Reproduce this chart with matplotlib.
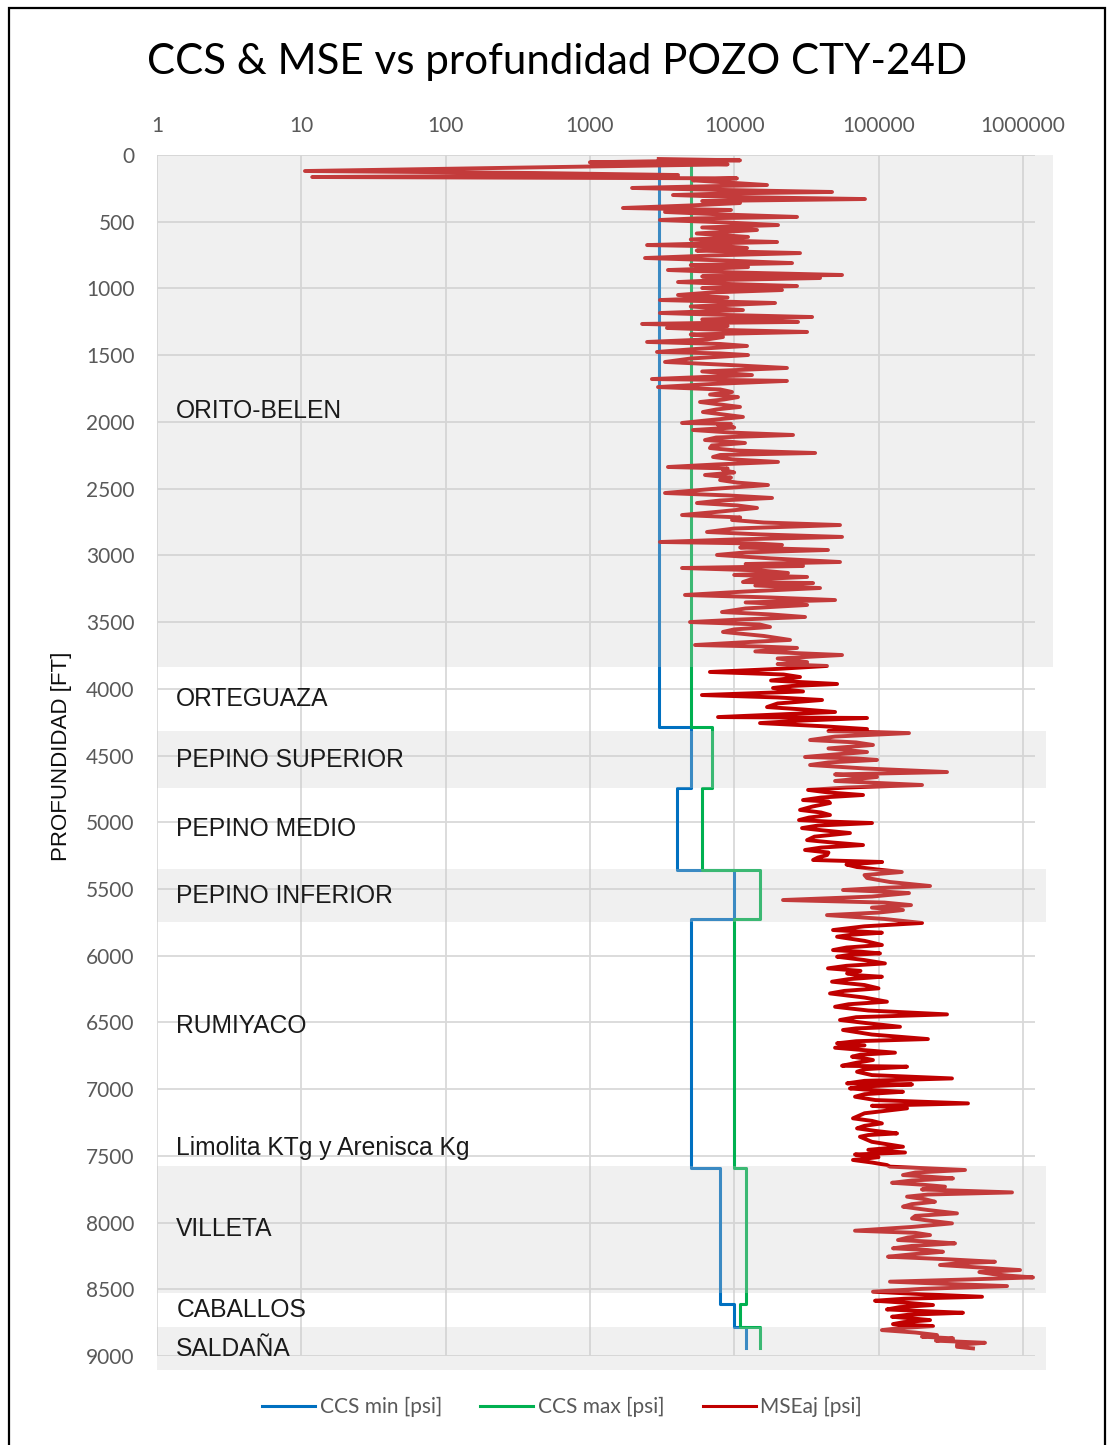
"""CCS & MSE vs depth, well CTY-24D."""
import matplotlib
matplotlib.use("Agg")
import matplotlib.pyplot as plt
from matplotlib import transforms
from matplotlib.patches import Rectangle
from matplotlib.ticker import NullLocator

# formation tops [ft], last value is the base of the deepest unit
formations = ["ORITO-BELEN", "ORTEGUAZA", "PEPINO SUPERIOR", "PEPINO MEDIO",
              "PEPINO INFERIOR", "RUMIYACO", "Limolita KTg y Arenisca Kg",
              "VILLETA", "CABALLOS", "SALDAÑA"]
formation_tops = [0, 3840, 4316, 4744, 5351, 5748, 7300, 7576, 8528, 8783, 9105]
formation_shaded = [True, False, True, False, True, False, False, True, False, True]

# CCS step profiles: depth breakpoints and value per interval [psi]
ccs_depth = [50, 4290, 4744, 5358, 5726, 7591, 8611, 8783, 8940]
ccs_min = [3000, 5000, 4000, 10000, 5000, 8000, 10000, 12000]
ccs_max = [5000, 7000, 6000, 15000, 10000, 12000, 11000, 15000]

# MSE adjusted trace (depth ft, psi)
mse_orito = [
    (30, 3000), (35, 6000), (40, 10970), (48, 2500), (55, 1000), (62, 5000),
    (70, 9000), (78, 3000), (85, 1200), (120, 10.6), (135, 420), (150, 4080),
    (165, 11.9), (175, 10450), (182, 6000), (190, 5185), (208, 9500),
    (225, 16880), (236, 5500), (247, 1960), (262, 8500), (277, 47640),
    (288, 9000), (300, 3765), (315, 10000), (330, 80600), (345, 6000),
    (360, 10970), (378, 5000), (397, 1695), (412, 9500), (427, 3315),
    (445, 8000), (464, 27250), (475, 5500), (487, 3060), (506, 9000),
    (525, 20120), (543, 6000), (562, 14390), (588, 5500), (614, 12470),
    (633, 5000), (652, 19820), (663, 6500), (675, 2490), (686, 9000),
    (697, 12270), (716, 5500), (735, 28580), (753, 7000), (772, 2410),
    (791, 9000), (810, 25170), (825, 5000), (840, 12470), (851, 7000),
    (862, 3475), (880, 10000), (899, 55880), (910, 6000), (922, 39330),
    (937, 8000), (952, 4080), (967, 9500), (982, 27250), (997, 6000),
    (1012, 21440), (1030, 7000), (1049, 4080), (1068, 9000), (1087, 3060),
    (1098, 8000), (1109, 19190), (1135, 5000), (1162, 11500), (1173, 6000),
    (1184, 3060), (1199, 9000), (1214, 34660), (1232, 6000), (1251, 27690),
    (1258, 7000), (1266, 2300), (1281, 9000), (1296, 3420), (1311, 8500),
    (1326, 31990), (1345, 5000), (1364, 8360), (1382, 6500), (1401, 2490),
    (1416, 8000), (1431, 12270), (1453, 5500), (1476, 2917), (1487, 8000),
    (1499, 12470), (1525, 5000), (1551, 3315), (1573, 9000), (1596, 23200),
    (1622, 6000), (1649, 13280), (1664, 6000), (1679, 2690), (1686, 9000),
    (1693, 23200), (1716, 7000), (1739, 2965), (1757, 8000), (1776, 9660),
    (1795, 6800), (1814, 10620), (1832, 8500), (1851, 5795), (1870, 8000),
    (1888, 10970), (1907, 7500), (1926, 6070), (1945, 8500), (1963, 11500),
    (1985, 7000), (2008, 4350), (2015, 9500), (2023, 7725), (2042, 10000),
    (2061, 5185), (2080, 9500), (2098, 25570), (2117, 7500), (2136, 6275),
    (2147, 9000), (2158, 11880), (2177, 7000), (2196, 6790), (2215, 10500),
    (2233, 36370), (2248, 8000), (2263, 7130), (2282, 10000), (2300, 20120),
    (2319, 7500), (2338, 3475), (2349, 9000), (2360, 8360), (2379, 10000),
    (2398, 6275), (2417, 9500), (2436, 7980), (2455, 10500), (2473, 17150),
    (2503, 7000), (2533, 3315), (2551, 9000), (2570, 18290), (2589, 8000),
    (2608, 5520), (2626, 10500), (2645, 14390), (2672, 8000), (2698, 4350),
    (2716, 11000), (2735, 9660), (2754, 16000), (2773, 54100), (2799, 10000),
    (2825, 6480), (2843, 15000), (2862, 55880), (2881, 10000), (2900, 3060),
    (2911, 14000), (2922, 21440), (2941, 11000), (2960, 44660), (2978, 12000),
    (2997, 7600), (3023, 18000), (3050, 54100), (3065, 12000), (3080, 29990),
    (3088, 11000), (3095, 4350), (3113, 15000), (3132, 23590), (3147, 10000),
    (3162, 31990), (3181, 13000), (3200, 11500), (3208, 35210), (3226, 14000),
    (3245, 39330), (3271, 12000), (3297, 4560), (3316, 18000), (3335, 50000),
    (3353, 12000), (3372, 31990), (3398, 12000), (3425, 8230), (3443, 18000),
    (3462, 30970), (3481, 11000), (3500, 4940), (3518, 15000), (3537, 17710),
    (3555, 10000), (3574, 8360), (3604, 16000), (3634, 24370), (3653, 11000),
    (3672, 5350), (3683, 15000), (3694, 27250), (3720, 14000), (3747, 55880),
    (3773, 20000), (3800, 31990), (3815, 20000), (3829, 43960),
]
mse_pepino = [
    (3851, 20000), (3874, 6790), (3893, 22000), (3912, 28580), (3938, 18000),
    (3964, 51640), (3979, 25000), (3994, 18580), (4020, 30000), (4047, 5975),
    (4065, 20000), (4084, 40620), (4110, 20000), (4137, 16880), (4155, 30000),
    (4174, 50000), (4193, 20000), (4212, 7725), (4219, 83270), (4238, 30000),
    (4257, 15100), (4280, 40000), (4302, 83270), (4317, 45000), (4332, 162700),
    (4358, 50000), (4384, 33560), (4402, 70000), (4421, 91580), (4447, 45000),
    (4474, 83270), (4492, 50000), (4511, 30970), (4522, 70000), (4533, 97700),
    (4552, 45000), (4571, 33560), (4597, 80000), (4624, 298400), (4642, 50000),
    (4661, 97700), (4691, 50000), (4721, 200300), (4740, 60000), (4758, 32500),
    (4777, 45000), (4796, 78140), (4815, 40000), (4834, 29990), (4845, 45000),
    (4856, 46130), (4882, 35000), (4908, 28580), (4927, 40000), (4946, 46130),
    (4965, 33000), (4984, 28130), (4995, 45000), (5006, 90160), (5025, 38000),
    (5044, 29520), (5062, 42000), (5081, 63420), (5108, 36000), (5134, 31990),
    (5152, 48000), (5171, 78140), (5190, 40000), (5208, 30970), (5227, 45000),
    (5246, 43960), (5265, 38000), (5283, 35210), (5298, 106000), (5317, 60000),
    (5336, 70990), (5355, 100000), (5373, 145000), (5396, 80000), (5418, 83270),
    (5448, 120000), (5478, 227600), (5493, 100000), (5508, 56770),
    (5520, 110000), (5531, 162700), (5557, 90000), (5583, 21790),
    (5602, 110000), (5621, 168000), (5640, 90000), (5658, 147800),
    (5677, 100000), (5696, 43960), (5725, 110000), (5755, 200300),
]
mse_rumiyaco = [
    (5780, 80000), (5808, 48410), (5828, 105600), (5843, 65000), (5858, 51640),
    (5889, 80000), (5920, 105600), (5939, 60000), (5958, 48410), (5970, 75000),
    (5983, 102400), (5995, 62000), (6008, 51640), (6033, 80000), (6058, 110800),
    (6076, 60000), (6095, 44660), (6114, 75000), (6133, 60550), (6146, 70000),
    (6158, 105600), (6176, 62000), (6195, 47640), (6220, 80000), (6245, 100000),
    (6264, 58000), (6283, 46130), (6314, 80000), (6345, 114400), (6364, 62000),
    (6383, 50000), (6411, 85000), (6440, 298400), (6461, 70000), (6482, 54100),
    (6507, 85000), (6533, 140900), (6545, 70000), (6557, 56770), (6591, 90000),
    (6625, 220000), (6641, 70000), (6657, 51640), (6672, 80000), (6690, 50000),
    (6708, 80000), (6727, 130100), (6742, 75000), (6757, 65510), (6770, 80000),
    (6782, 91580), (6803, 70000), (6825, 55880), (6832, 157700), (6851, 80000),
    (6870, 70990), (6895, 90000), (6920, 323000), (6938, 80000), (6957, 60550),
    (6965, 170700), (6980, 80000), (6995, 63420), (7007, 90000), (7020, 147800),
    (7038, 80000), (7057, 68730), (7082, 95000), (7107, 417000), (7125, 90000),
    (7144, 157700), (7181, 80000), (7219, 66550), (7238, 90000), (7257, 105600),
    (7275, 80000), (7294, 70990), (7313, 95000), (7332, 134400), (7344, 85000),
    (7357, 74380), (7395, 90000), (7432, 147800), (7455, 85000), (7475, 152700),
    (7490, 68730), (7510, 100000), (7531, 66550), (7550, 90000), (7569, 114400),
]
mse_villeta = [
    (7581, 120100), (7606, 397800), (7625, 180000), (7644, 147800),
    (7656, 220000), (7669, 328300), (7685, 170000), (7702, 124100),
    (7716, 200000), (7731, 289000), (7752, 200000), (7774, 841800),
    (7790, 220000), (7806, 157700), (7825, 210000), (7844, 246500),
    (7862, 170000), (7881, 147800), (7906, 220000), (7931, 349900),
    (7950, 180000), (7969, 170700), (7987, 230000), (8006, 323000),
    (8033, 170000), (8061, 68730), (8077, 180000), (8094, 227600),
    (8112, 160000), (8131, 136500), (8143, 230000), (8156, 339000),
    (8175, 170000), (8193, 126000), (8206, 220000), (8219, 280000),
    (8238, 170000), (8256, 116300), (8275, 300000), (8294, 641700),
    (8306, 350000), (8318, 266700), (8337, 500000), (8356, 956700),
    (8371, 500000), (8386, 621500), (8398, 800000), (8411, 1177000),
    (8427, 400000), (8443, 120100), (8460, 300000), (8476, 777700),
    (8497, 200000), (8518, 91580), (8537, 200000), (8556, 521700),
    (8571, 150000), (8586, 94600), (8602, 160000), (8618, 238700),
    (8634, 140000), (8651, 114400), (8663, 200000), (8676, 385000),
    (8691, 160000), (8706, 124100), (8718, 170000), (8731, 227600),
    (8746, 150000), (8761, 126000), (8776, 238700), (8791, 140000),
    (8806, 105600), (8824, 180000), (8843, 254200), (8855, 200000),
    (8868, 328300), (8885, 250000), (8901, 547000), (8916, 350000),
    (8931, 349900), (8943, 451700),
]

x_ticks = [1, 10, 100, 1000, 10000, 100000, 1000000]
y_ticks = list(range(0, 9001, 500))


def step_xy(depths, values):
    """turn interval values into a vertical step polyline."""
    xs, ys = [], []
    for i, v in enumerate(values):
        xs += [v, v]
        ys += [depths[i], depths[i + 1]]
    return xs, ys


W, H = 1107, 1445
fig = plt.figure(figsize=(W / 100, H / 100), dpi=100)
plt.rcParams["font.family"] = ["Lato", "DejaVu Sans"]

ax = fig.add_axes([157 / W, 1 - 1356 / H, (1035 - 157) / W, (1356 - 155) / H])
ax.set_xscale("log")
ax.set_xlim(1, 10 ** (878 / 144.3))
ax.set_ylim(9000, 0)

xs, ys = step_xy(ccs_depth, ccs_min)
ax.plot(xs, ys, color="#0070C0", lw=2.2, label="CCS min [psi]", zorder=2)
xs, ys = step_xy(ccs_depth, ccs_max)
ax.plot(xs, ys, color="#00B050", lw=2.2, label="CCS max [psi]", zorder=2)
mse = mse_orito + mse_pepino + mse_rumiyaco + mse_villeta
ax.plot([p[1] for p in mse], [p[0] for p in mse], color="#C00000", lw=2.8,
        label="MSEaj [psi]", zorder=2.5)

# formation bands, drawn over the curves so they wash them out a bit
band_tr = transforms.blended_transform_factory(fig.transFigure, ax.transData)
label_tr = transforms.blended_transform_factory(ax.transAxes, ax.transData)
for i, name in enumerate(formations):
    top, base = formation_tops[i], formation_tops[i + 1]
    if formation_shaded[i]:
        right = 1053 if i == 0 else 1046
        ax.add_patch(Rectangle((157 / W, top), (right - 157) / W, base - top,
                               transform=band_tr, facecolor="#CCCCCC",
                               alpha=0.29, lw=0, zorder=3, clip_on=False))
    ax.text(0.022, (top + base) / 2, name, transform=label_tr, ha="left",
            va="center", fontsize=17.7, color="#1a1a1a",
            family=["Liberation Sans", "DejaVu Sans"], zorder=4)

ax.xaxis.tick_top()
ax.set_xticks(x_ticks)
ax.set_xticklabels([str(v) for v in x_ticks])
ax.xaxis.set_minor_locator(NullLocator())
ax.set_yticks(y_ticks)
ax.set_yticklabels([str(v) for v in y_ticks])
ax.tick_params(axis="x", length=0, pad=14, labelsize=15, colors="#595959")
ax.tick_params(axis="y", length=0, pad=16, labelsize=15, colors="#595959")
ax.grid(True, which="major", color="#D9D9D9", lw=1.3)
ax.set_axisbelow(True)
for s in ax.spines.values():
    s.set_visible(False)

fig.text(557 / W, 1 - 62 / H, "CCS & MSE vs profundidad POZO CTY-24D",
         ha="center", va="center", fontsize=30.3, color="black")
fig.text(62 / W, 1 - 756 / H, "PROFUNDIDAD [FT]", rotation=90, ha="center",
         va="center", fontsize=16, color="#0d0d0d",
         family=["Liberation Sans", "DejaVu Sans"])

leg = fig.legend(loc="center", bbox_to_anchor=(562 / W, 1 - 1407 / H), ncol=3,
                 frameon=False, fontsize=15, labelcolor="#595959",
                 handlelength=2.55, handletextpad=0.2, columnspacing=1.85)
for line in leg.get_lines():
    line.set_linewidth(2.2)

# outer frame of the original figure
fig.add_artist(Rectangle((9 / W, -0.01), (1105 - 9) / W, 1.01 - 8 / H,
                         transform=fig.transFigure, fill=False,
                         edgecolor="black", lw=1.6))

fig.savefig("out.png", dpi=100)
